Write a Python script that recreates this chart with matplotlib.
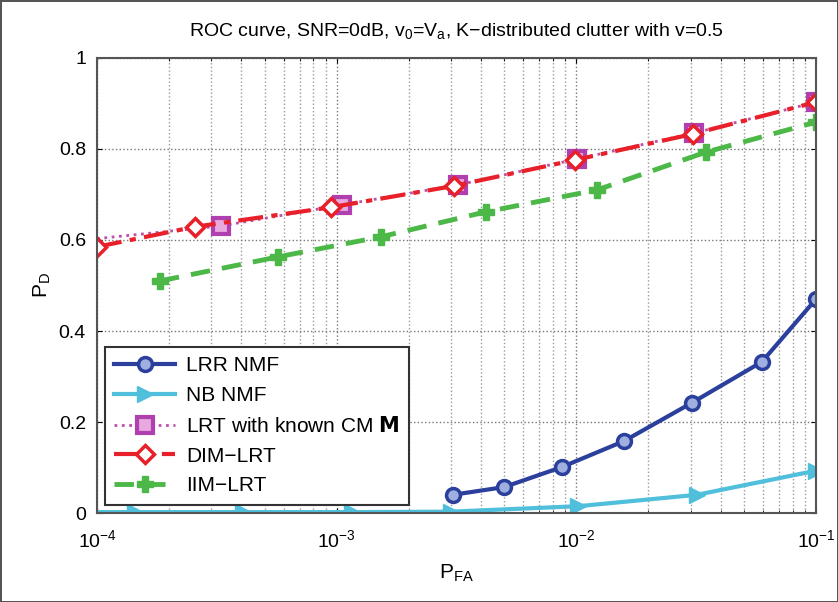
import matplotlib
matplotlib.use('Agg')
import matplotlib.pyplot as plt
import numpy as np
from matplotlib.ticker import LogLocator, NullFormatter

plt.rcParams['font.family'] = ['Liberation Sans', 'DejaVu Sans']
plt.rcParams['mathtext.default'] = 'regular'

# data
pfa_lrr = [3.05e-3, 5.0e-3, 8.7e-3, 1.58e-2, 3.03e-2, 5.94e-2, 1e-1]
pd_lrr = [0.040, 0.057, 0.101, 0.158, 0.242, 0.332, 0.470]

pfa_nb = [1e-4, 1.44e-4, 4.07e-4, 1.16e-3, 3.0e-3, 1.02e-2, 3.18e-2, 1e-1]
pd_nb = [0.002, 0.002, 0.002, 0.002, 0.003, 0.015, 0.040, 0.093]

pfa_lrt = [1e-4, 3.3e-4, 1.05e-3, 3.2e-3, 1.01e-2, 3.1e-2, 1e-1]
pd_lrt = [0.603, 0.631, 0.677, 0.721, 0.778, 0.835, 0.903]

pfa_dim = [1e-4, 2.56e-4, 9.5e-4, 3.1e-3, 9.9e-3, 3.07e-2, 1e-1]
pd_dim = [0.585, 0.629, 0.672, 0.719, 0.776, 0.833, 0.903]

pfa_iim = [1.83e-4, 5.7e-4, 1.53e-3, 4.2e-3, 1.22e-2, 3.47e-2, 1e-1]
pd_iim = [0.510, 0.563, 0.607, 0.662, 0.710, 0.793, 0.859]

fig = plt.figure(figsize=(8.38, 6.02), dpi=100)
fig.patch.set_edgecolor('#555555')
fig.patch.set_linewidth(2)
ax = fig.add_axes([0.1158, 0.1478, 0.8579, 0.7559])

ax.plot(pfa_lrr, pd_lrr, '-', color='#2b3f9c', lw=3, marker='o', ms=10,
        mfc='#9fb0e0', mec='#2b3f9c', mew=2.5, label='LRR NMF')
ax.plot(pfa_nb, pd_nb, '-', color='#4fbfdc', lw=3, marker='>', ms=12,
        mfc='#4fbfdc', mec='#4fbfdc', markevery=list(range(1, len(pfa_nb))), label='NB NMF')
ax.plot(pfa_lrt, pd_lrt, ':', color='#c04fa8', lw=2, marker='s', ms=11,
        mfc='#e8a8e0', mec='#b03fb0', mew=3, markevery=list(range(1, len(pfa_lrt))),
        label='LRT with known CM $\\mathbf{M}$')
ax.plot(pfa_dim, pd_dim, color='#e8202a', lw=3, marker='D', ms=9,
        mfc='white', mec='#e8202a', mew=2.5, dashes=(6, 2, 1.5, 2), label='DIM\u2212LRT')
ax.plot(pfa_iim, pd_iim, color='#4cb847', lw=3.5, marker='P', ms=11,
        mfc='#4cb847', mec='#4cb847', dashes=(4, 2.5), label='IIM\u2212LRT')

ax.set_xscale('log')
ax.set_xlim(1e-4, 1e-1)
ax.set_ylim(0, 1)
ax.set_yticks([0, 0.2, 0.4, 0.6, 0.8, 1])
ax.set_yticklabels(['0', '0.2', '0.4', '0.6', '0.8', '1'])
ax.set_xticks([1e-4, 1e-3, 1e-2, 1e-1])
ax.set_xticklabels(['$10^{-4}$', '$10^{-3}$', '$10^{-2}$', '$10^{-1}$'])
ax.xaxis.set_minor_locator(LogLocator(base=10, subs=np.arange(2, 10)))
ax.xaxis.set_minor_formatter(NullFormatter())
ax.tick_params(direction='in', which='both', labelsize=14, top=True, right=True)
ax.tick_params(axis='x', pad=12)
ax.tick_params(axis='y', pad=8)
ax.grid(True, which='major', ls=':', color='#777777', lw=1)
ax.grid(True, which='minor', axis='x', ls=':', color='#999999', lw=1)
for s in ax.spines.values():
    s.set_color('#555555')
    s.set_linewidth(1.5)

ax.set_title('ROC curve, SNR=0dB, v$_0$=V$_a$, K\u2212distributed clutter with v=0.5',
             fontsize=14, pad=16)
ax.set_xlabel('P$_{FA}$', fontsize=15, labelpad=8)
ax.set_ylabel('P$_D$', fontsize=15)

leg = ax.legend(loc='lower left', bbox_to_anchor=(0.011, 0.018), borderaxespad=0,
                fontsize=15, fancybox=False, edgecolor='#333333', framealpha=1,
                handlelength=2.9, handletextpad=0.55, borderpad=0.45, labelspacing=0.52)
leg.get_frame().set_linewidth(1.5)

fig.savefig('out.png', dpi=100)
